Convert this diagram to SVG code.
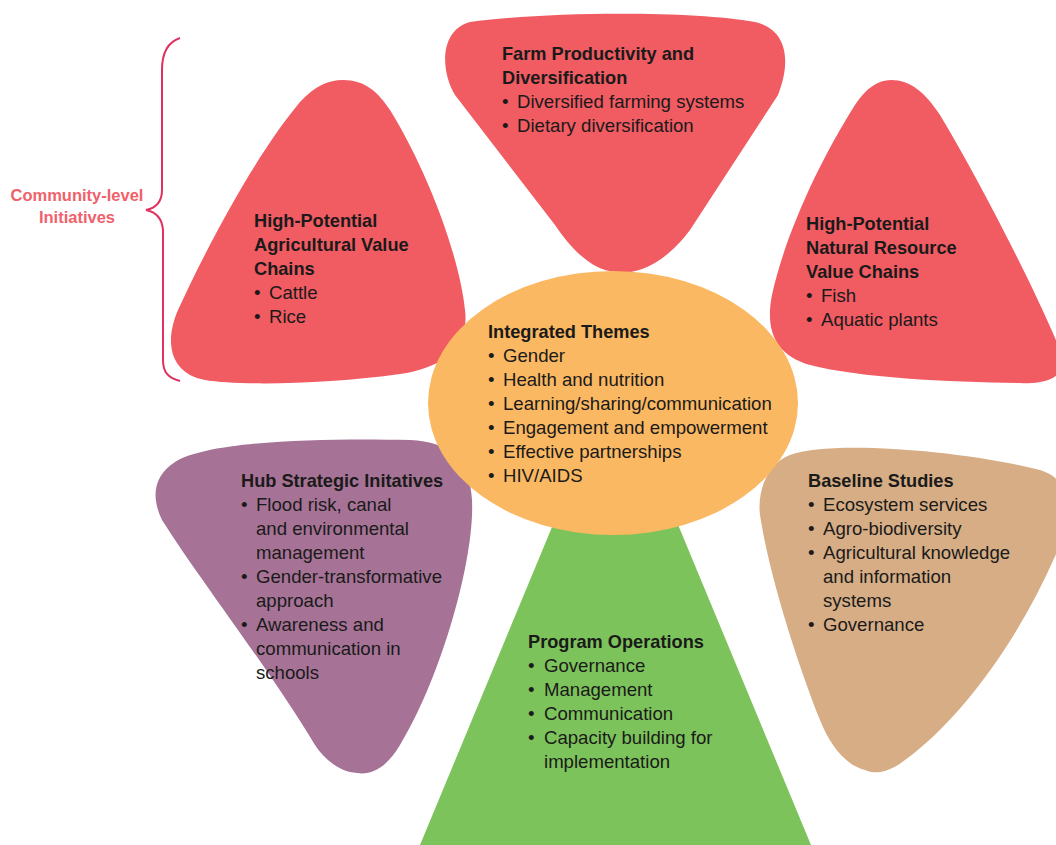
<svg xmlns="http://www.w3.org/2000/svg" width="1056" height="845" viewBox="0 0 1056 845">
<style>
text{font-family:"Liberation Sans",Arial,sans-serif;font-size:18.6px;fill:#1a1a1a}
.h{font-weight:bold;font-size:18.2px}
.red{fill:#F15B62}
.lbl{fill:#F0616B;font-weight:bold;font-size:16.5px}
</style>
<rect width="1056" height="845" fill="#ffffff"/>
<g id="brace">
<path d="M180 38 C168 42 162 52 162 70 L162 190 C162 202 156 208 146 210 C156 212 162 218 163 230 L163 360 C163 372 168 378 180 381" fill="none" stroke="#E1305F" stroke-width="2"/>
<text class="lbl" x="77" y="201" text-anchor="middle">Community-level</text>
<text class="lbl" x="77" y="223" text-anchor="middle">Initiatives</text>
</g>
<g id="agri-value-chains">
<path class="red" d="M343 80 C365 80 378 92 390 110 C430 175 460 260 465 310 C470 350 440 368 400 374 C330 384 240 386 205 380 C172 374 163 345 178 310 C215 230 260 150 300 102 C315 86 328 80 343 80 Z"/>
<text class="h" x="254" y="227">High-Potential</text>
<text class="h" x="254" y="251">Agricultural Value</text>
<text class="h" x="254" y="275">Chains</text>
<text x="254" y="299">•</text><text x="269" y="299">Cattle</text>
<text x="254" y="323">•</text><text x="269" y="323">Rice</text>
</g>
<g id="farm-productivity">
<path class="red" d="M470 22 C540 12 690 10 755 22 C790 30 790 65 778 95 L690 230 C660 270 630 275 615 272 C595 270 575 255 555 225 L455 95 C440 70 440 30 470 22 Z"/>
<text class="h" x="502" y="60">Farm Productivity and</text>
<text class="h" x="502" y="84">Diversification</text>
<text x="502" y="108">•</text><text x="517" y="108">Diversified farming systems</text>
<text x="502" y="132">•</text><text x="517" y="132">Dietary diversification</text>
</g>
<g id="natural-resource-chains">
<path class="red" d="M891 80 C910 80 925 92 940 115 C985 190 1040 300 1060 350 C1070 375 1050 385 1020 383 C950 382 860 378 810 365 C775 355 765 330 772 295 C785 235 820 160 855 105 C866 88 878 80 891 80 Z"/>
<text class="h" x="806" y="230">High-Potential</text>
<text class="h" x="806" y="254">Natural Resource</text>
<text class="h" x="806" y="278">Value Chains</text>
<text x="806" y="302">•</text><text x="821" y="302">Fish</text>
<text x="806" y="326">•</text><text x="821" y="326">Aquatic plants</text>
</g>
<g id="hub-strategic">
<path fill="#A67396" d="M175 462 C210 440 330 438 410 440 C450 442 470 460 472 500 C475 560 440 680 400 745 C385 770 370 775 357 773 C340 772 325 760 315 745 C270 670 200 580 162 520 C150 495 155 475 175 462 Z"/>
<text class="h" x="241" y="487">Hub Strategic Initatives</text>
<text x="241" y="511">•</text><text x="256" y="511">Flood risk, canal</text>
<text x="256" y="535">and environmental</text>
<text x="256" y="559">management</text>
<text x="241" y="583">•</text><text x="256" y="583">Gender-transformative</text>
<text x="256" y="607">approach</text>
<text x="241" y="631">•</text><text x="256" y="631">Awareness and</text>
<text x="256" y="655">communication in</text>
<text x="256" y="679">schools</text>
</g>
<g id="baseline-studies">
<path fill="#D6AD84" d="M790 455 C830 440 960 450 1040 470 C1075 480 1070 520 1060 545 C1020 640 960 720 905 760 C890 772 875 775 865 770 C845 765 830 745 820 720 C800 670 770 580 760 515 C757 490 768 463 790 455 Z"/>
<text class="h" x="808" y="487">Baseline Studies</text>
<text x="808" y="511">•</text><text x="823" y="511">Ecosystem services</text>
<text x="808" y="535">•</text><text x="823" y="535">Agro-biodiversity</text>
<text x="808" y="559">•</text><text x="823" y="559">Agricultural knowledge</text>
<text x="823" y="583">and information</text>
<text x="823" y="607">systems</text>
<text x="808" y="631">•</text><text x="823" y="631">Governance</text>
</g>
<g id="program-operations">
<polygon fill="#7DC35B" points="557,515 674,515 811,845 420,845"/>
<text class="h" x="528" y="648">Program Operations</text>
<text x="528" y="672">•</text><text x="544" y="672">Governance</text>
<text x="528" y="696">•</text><text x="544" y="696">Management</text>
<text x="528" y="720">•</text><text x="544" y="720">Communication</text>
<text x="528" y="744">•</text><text x="544" y="744">Capacity building for</text>
<text x="544" y="768">implementation</text>
</g>
<g id="integrated-themes">
<ellipse cx="613" cy="403" rx="185" ry="132" fill="#FBB862"/>
<text class="h" x="488" y="338">Integrated Themes</text>
<text x="488" y="362">•</text><text x="503" y="362">Gender</text>
<text x="488" y="386">•</text><text x="503" y="386">Health and nutrition</text>
<text x="488" y="410">•</text><text x="503" y="410">Learning/sharing/communication</text>
<text x="488" y="434">•</text><text x="503" y="434">Engagement and empowerment</text>
<text x="488" y="458">•</text><text x="503" y="458">Effective partnerships</text>
<text x="488" y="482">•</text><text x="503" y="482">HIV/AIDS</text>
</g>
<g id="connectors"></g>
</svg>
